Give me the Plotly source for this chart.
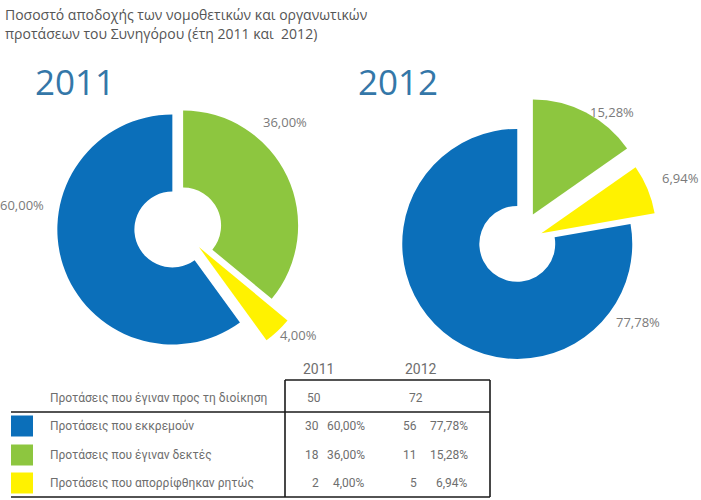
import plotly.graph_objects as go

# ---------------- data ----------------
title_lines = ["Ποσοστό αποδοχής των νομοθετικών και οργανωτικών",
               "προτάσεων του Συνηγόρου (έτη 2011 και  2012)"]
years = ["2011", "2012"]
categories = ["Προτάσεις που εκκρεμούν",
              "Προτάσεις που έγιναν δεκτές",
              "Προτάσεις που απορρίφθηκαν ρητώς"]
total_label = "Προτάσεις που έγιναν προς τη διοίκηση"
totals = [50, 72]
counts_2011 = [30, 18, 2]
counts_2012 = [56, 11, 5]
pct_2011 = [60.00, 36.00, 4.00]
pct_2012 = [77.78, 15.28, 6.94]

# ---------------- styles ----------------
W, H = 701, 500
colors = ["#0b6fba", "#8dc63f", "#fff200"]
FONT = "Open Sans"
TXT = "#6e6e6e"


def px(x):
    return x / W


def py(y):
    return 1 - y / H


def fmt(v):
    return f"{v:.2f}".replace(".", ",") + "%"


# pie order clockwise from 12 o'clock: accepted, rejected, pending
order = [1, 2, 0]
pie_cfg = [
    # center px, radius px, pulls (pending, accepted, rejected), which slices have a hole
    dict(cx=180, cy=227, r=115, pull=[0.07, 0.03, 0.24], holed=[True, True, False]),
    dict(cx=518, cy=243, r=115, pull=[0.01, 0.28, 0.22], holed=[True, False, False]),
]
label_pos = [
    [(22, 205), (285, 122), (298, 335)],
    [(638, 322), (612, 112), (680, 178)],
]
year_pos = [(75, 81), (398, 81)]

pcts = [pct_2011, pct_2012]
counts = [counts_2011, counts_2012]

fig = go.Figure()
for i, cfg in enumerate(pie_cfg):
    maxp = max(cfg["pull"])
    half = cfg["r"] * (1 + maxp)
    dom = dict(x=[px(cfg["cx"] - half), px(cfg["cx"] + half)],
               y=[py(cfg["cy"] + half), py(cfg["cy"] - half)])
    vals = [pcts[i][k] for k in order]
    labs = [categories[k] for k in order]
    pulls = [cfg["pull"][k] for k in order]
    for holed in (True, False):
        cols = [colors[k] if cfg["holed"][k] == holed else "rgba(0,0,0,0)" for k in order]
        fig.add_trace(go.Pie(
            values=vals, labels=labs, sort=False, direction="clockwise", rotation=0,
            hole=0.33 if holed else 0, pull=pulls,
            marker=dict(colors=cols, line=dict(width=0)),
            textinfo="none", hoverinfo="label+percent", showlegend=False,
            domain=dom,
        ))

annotations = []
# title
for j, t in enumerate(title_lines):
    annotations.append(dict(x=px(3), y=py(14 + 19 * j), xanchor="left", yanchor="middle",
                            text=t, showarrow=False,
                            font=dict(family=FONT, size=14, color="#555555")))
# year headings
for i, y in enumerate(years):
    annotations.append(dict(x=px(year_pos[i][0]), y=py(year_pos[i][1]), xanchor="center",
                            yanchor="middle", text=y, showarrow=False,
                            font=dict(family=FONT, size=35, color="#3477a8")))
# percentage labels
for i in range(2):
    for k in range(3):
        x, y = label_pos[i][k]
        annotations.append(dict(x=px(x), y=py(y), xanchor="center", yanchor="middle",
                                text=fmt(pcts[i][k]), showarrow=False,
                                font=dict(family=FONT, size=13, color="#7a7a7a")))

# ---------------- table ----------------
TF = dict(family="Roboto", size=12, color=TXT)
col_center = [318, 421]
count_right = [321, 419]
pct_right = [367, 470]
total_left = [305, 407]
row_y = [398, 426, 455, 483]
for i, y in enumerate(years):
    annotations.append(dict(x=px(col_center[i]), y=py(369), xanchor="center", yanchor="middle",
                            text=y, showarrow=False, font=dict(family="Roboto", size=14, color=TXT)))
annotations.append(dict(x=px(48), y=py(row_y[0]), xanchor="left", yanchor="middle",
                        text=total_label, showarrow=False, font=TF))
for i in range(2):
    annotations.append(dict(x=px(total_left[i]), y=py(row_y[0]), xanchor="left", yanchor="middle",
                            text=str(totals[i]), showarrow=False, font=TF))
shapes = []
for k in range(3):
    yy = row_y[k + 1]
    annotations.append(dict(x=px(48), y=py(yy), xanchor="left", yanchor="middle",
                            text=categories[k], showarrow=False, font=TF))
    for i in range(2):
        annotations.append(dict(x=px(count_right[i]), y=py(yy), xanchor="right", yanchor="middle",
                                text=str(counts[i][k]), showarrow=False, font=TF))
        annotations.append(dict(x=px(pct_right[i]), y=py(yy), xanchor="right", yanchor="middle",
                                text=fmt(pcts[i][k]), showarrow=False, font=TF))
    shapes.append(dict(type="rect", xref="paper", yref="paper",
                       x0=px(11), x1=px(33), y0=py(yy - 10.5), y1=py(yy + 10.5),
                       fillcolor=colors[k], line=dict(width=0)))

LINE = dict(color="#1a1a1a", width=1.6)
for (x0, y0, x1, y1) in [(285, 380, 490, 380), (11, 412, 490, 412), (11, 497, 490, 497),
                         (285, 380, 285, 497), (490, 380, 490, 497)]:
    shapes.append(dict(type="line", xref="paper", yref="paper",
                       x0=px(x0), y0=py(y0), x1=px(x1), y1=py(y1), line=LINE))

fig.update_layout(width=W, height=H, margin=dict(l=0, r=0, t=0, b=0),
                  paper_bgcolor="white", plot_bgcolor="white",
                  annotations=annotations, shapes=shapes)
fig.write_html("out.html")
